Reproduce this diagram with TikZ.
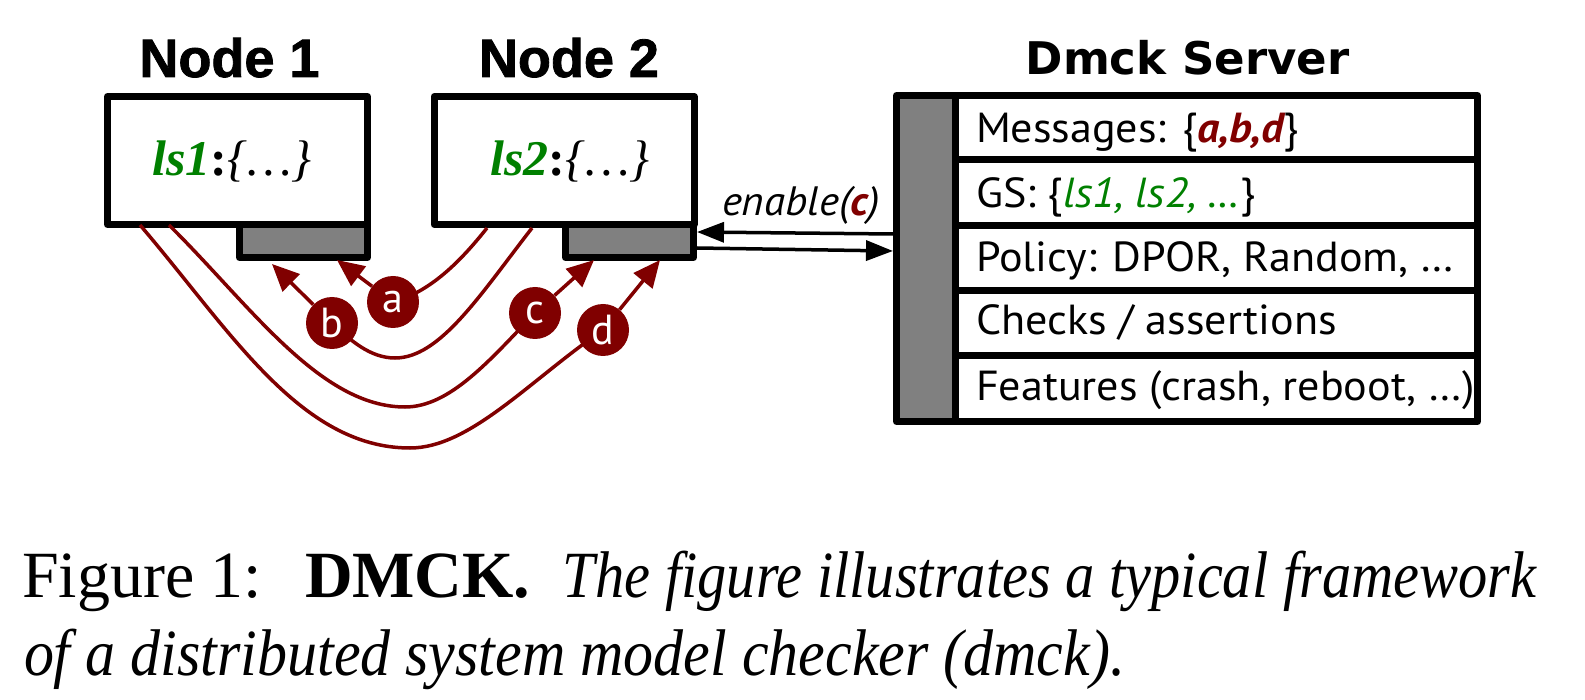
\documentclass[tikz,border=0pt]{standalone}
\usepackage{fontspec}
\usepackage{graphicx}
\setmainfont{Liberation Serif}
\newfontfamily\gill{PT Sans}
\newfontfamily\heavy[FakeBold=1.5]{Liberation Sans Bold}
\newfontfamily\dvs{DejaVu Sans}
\usetikzlibrary{arrows.meta}
\definecolor{mred}{RGB}{128,0,0}
\definecolor{mgreen}{RGB}{0,128,0}
\definecolor{mgray}{RGB}{128,128,128}
\tikzset{
  boxline/.style={draw=black,line width=7pt,line join=round,inner sep=0pt,outer sep=0pt},
  mainbox/.style={boxline,fill=white,minimum width=260pt,minimum height=128pt},
  portbox/.style={boxline,fill=mgray,minimum width=128pt,minimum height=33pt},
  txt/.style={inner sep=0pt,outer sep=0pt},
  title/.style={txt,font=\heavy\fontsize{54}{60}\selectfont},
  rowtxt/.style={txt,anchor=base west,font=\gill\fontsize{42}{48}\selectfont},
  msgline/.style={draw=mred,line width=3.5pt},
  msgarrow/.style={msgline,-{Triangle[length=27pt,width=24pt]}},
  ctlarrow/.style={draw=black,line width=3.5pt,-{Triangle[length=27pt,width=20pt]}},
  msgcircle/.style={circle,fill=mred,minimum size=52pt,inner sep=0pt,text=white,font=\gill\fontsize{42}{48}\selectfont},
  captxt/.style={txt,font=\fontsize{66}{78}\selectfont},
}
\newcommand{\rowx}[1]{\scalebox{1.05}[1]{#1}}
\begin{document}
\begin{tikzpicture}[x=1pt,y=-1pt]
\useasboundingbox (0,0) rectangle (1585,700);

% titles
\node[title,anchor=base] (t1) at (229.5,77) {Node 1};
\node[title,anchor=base] (t2) at (569,77) {Node 2};
\node[txt,anchor=base,font=\dvs\bfseries\fontsize{45}{52}\selectfont] (t3) at (1187.5,75) {Dmck Server};

% node boxes
\node[portbox] (p1) at (303.5,241) {};
\node[mainbox] (n1) at (237.5,160.5) {};
\node[txt,anchor=base,font=\fontsize{50}{56}\selectfont] (s1) at (232,176)
  {\textcolor{mgreen}{\textbf{\textit{ls1}}}\textbf{:}\textit{\{…\}}};
\node[portbox] (p2) at (629.5,241) {};
\node[mainbox] (n2) at (564,160.5) {};
\node[txt,anchor=base,font=\fontsize{50}{56}\selectfont] (s2) at (570,176)
  {\textcolor{mgreen}{\textbf{\textit{ls2}}}\textbf{:}\textit{\{…\}}};

% server
\fill[mgray] (896.5,95.5) rectangle (955,421.5);
\node[boxline,minimum width=581pt,minimum height=326pt] (srv) at (1187,258.5) {};
\draw[line width=7pt] (955,95.5) -- (955,421.5);
\foreach \yy in {160,226,291,356} \draw[line width=7pt] (955,\yy) -- (1477.5,\yy);
\node[rowtxt] (r1) at (976,143) {\rowx{Messages: \{\textcolor{mred}{\bfseries\itshape a,b,d}\}}};
\node[rowtxt] (r2) at (976,208) {\rowx{GS: \{\textcolor{mgreen}{\itshape ls1, ls2, …}\}}};
\node[rowtxt] (r3) at (976,272) {\rowx{Policy: DPOR, Random, …}};
\node[rowtxt] (r4) at (976,335) {\rowx{Checks / assertions}};
\node[rowtxt] (r5) at (976,400) {\rowx{Features (crash, reboot, …)}};

% control arrows
\coordinate (s1out) at (893,234);
\coordinate (p2in) at (697,232);
\coordinate (p2out) at (697,248);
\coordinate (s1in) at (893,251);
\draw[ctlarrow] (s1out) -- (p2in);
\draw[ctlarrow] (p2out) -- (s1in);
\node[txt,anchor=base,font=\gill\itshape\fontsize{41}{46}\selectfont] (en) at (801,216)
  {\rowx{enable(\textcolor{mred}{\bfseries c})}};

% message curves
\coordinate (n1o) at (140,225);
\coordinate (n1i) at (169,225);
\coordinate (n2a) at (487,228);
\coordinate (n2b) at (532,228);
\coordinate (ma) at (393,302);
\coordinate (mb) at (332,323);
\coordinate (mc) at (535,313);
\coordinate (md) at (603,330);
\coordinate (ta) at (337,260);
\coordinate (tb) at (272,264);
\coordinate (tc) at (594,260);
\coordinate (td) at (660,260);

\draw[msgline] (n1o) .. controls (230,330) and (300,448) .. (410,448)
  .. controls (470,448) and (530,380) .. (md);
\draw[msgline] (n1i) .. controls (250,305) and (320,407) .. (405,407)
  .. controls (450,407) and (490,360) .. (mc);
\draw[msgline] (n2b) .. controls (480,295) and (440,358) .. (395,358)
  .. controls (370,358) and (350,340) .. (mb);
\draw[msgline] (n2a) .. controls (460,262) and (430,292) .. (ma);

\node[msgcircle] (ca) at (ma) {a};
\node[msgcircle] (cb) at (mb) {b};
\node[msgcircle] (cc) at (mc) {c};
\node[msgcircle] (cd) at (md) {d};

\draw[msgarrow] (ca) -- (ta);
\draw[msgarrow] (cb) -- (tb);
\draw[msgarrow] (cc) -- (tc);
\draw[msgarrow] (cd) -- (td);

% caption
\node[captxt,anchor=base west] (cap1a) at (22,597) {Figure 1:};
\node[captxt,anchor=base west] (cap1b) at (305,597) {\textbf{DMCK.}};
\node[captxt,anchor=base east] (cap1c) at (1537,597)
  {\resizebox{974pt}{\height}{\textit{The figure illustrates a typical framework}}};
\node[captxt,anchor=base west] (cap2) at (24,675)
  {\resizebox{1101pt}{\height}{\textit{of a distributed system model checker (dmck).}}};
\end{tikzpicture}
\end{document}
